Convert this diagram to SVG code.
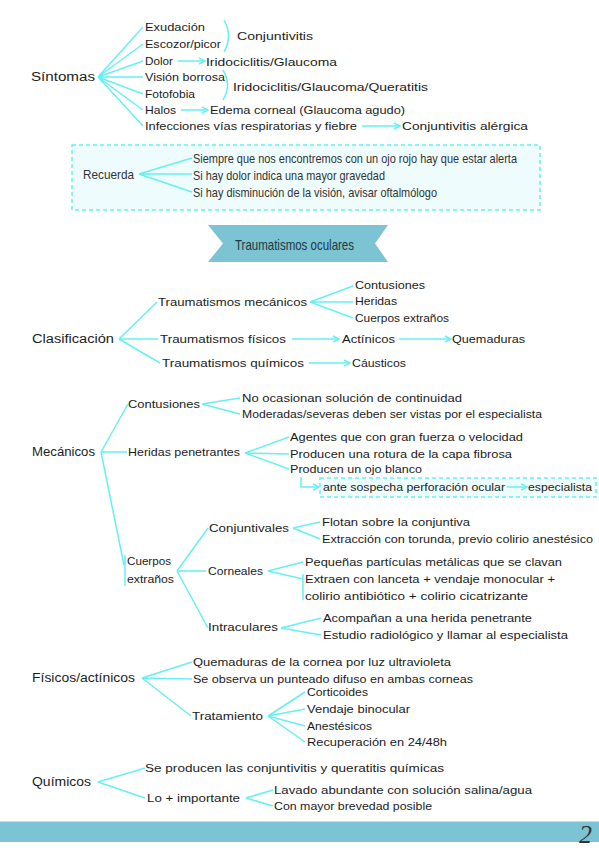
<svg xmlns="http://www.w3.org/2000/svg" width="599" height="848" viewBox="0 0 599 848">
<defs>
<style>
.t{font-family:"Liberation Sans",Arial,sans-serif;font-size:11.5px;fill:#1c1c1c;dominant-baseline:central}
.m{font-size:12.5px}
.n{font-family:"Liberation Sans",Arial,sans-serif;font-size:13.5px;fill:#333;dominant-baseline:central}
.c{stroke:#66f0f2;stroke-width:1.5;fill:none}
.a{marker-end:url(#ah)}
.box{fill:#eefcfd;stroke:#66f0f2;stroke-width:1.5;stroke-dasharray:4 3}
.band{fill:#7cc3d4}
</style>
<marker id="ah" viewBox="0 0 8 8" refX="7" refY="4" markerWidth="8" markerHeight="8" markerUnits="userSpaceOnUse" orient="auto">
<path d="M1,1 L7,4 L1,7" fill="none" stroke="#66f0f2" stroke-width="1.5"/>
</marker>
</defs>
<rect width="599" height="848" fill="#ffffff"/>

<g id="shapes">
<rect class="box" x="72" y="145" width="468" height="65"/>
<polygon class="band" points="208,225 388,225 375,243.5 388,262 208,262 223,243.5"/>
<rect class="box" x="320" y="478" width="276" height="19"/>
<rect class="band" x="0" y="821.5" width="599" height="20.5"/>
</g>

<g id="connectors">
<path class="c" d="M98,77 L143,27 M98,77 L143,44 M98,77 L143,61 M98,77 L143,77 M98,77 L143,94 M98,77 L143,110 M98,77 L143,126"/>
<path class="c" d="M224,20 Q233,36 224,52"/>
<path class="c" d="M223,70 Q232,85 223,100"/>
<path class="c a" d="M178,61 H205"/>
<path class="c a" d="M181,110 H208"/>
<path class="c a" d="M362,126 H400"/>
<path class="c" d="M139,174 L192,158 M139,174 L192,174 M139,174 L192,192"/>
<path class="c" d="M119,339 L157,302 M119,339 L158,339 M119,339 L160,363"/>
<path class="c" d="M310,302 L353,286 M310,302 L353,302 M310,302 L353,318"/>
<path class="c a" d="M292,339 H339"/>
<path class="c a" d="M399,339 H451"/>
<path class="c a" d="M309,363 H350"/>
<path class="c" d="M101,452 L128,404 M101,452 L127,452 M101,452 L124,565 M125,555 V586"/>
<path class="c" d="M202,404 L240,398 M202,404 L240,414"/>
<path class="c" d="M245,453 L289,437 M245,453 L289,454 M245,453 L289,469"/>
<path class="c a" d="M301,477 V487 H319"/>
<path class="c a" d="M507,487 H527"/>
<path class="c" d="M177,571 L208,528 M177,571 L206,571 M177,571 L208,628"/>
<path class="c" d="M293,528 L320,522 M293,528 L320,539"/>
<path class="c" d="M268,571 L303,562 M268,571 L303,579 M303,574 V600"/>
<path class="c" d="M281,628 L321,618 M281,628 L321,635"/>
<path class="c" d="M142,678 L192,662 M142,678 L192,679 M142,678 L191,716"/>
<path class="c" d="M268,716 L305,692 M268,716 L305,709 M268,716 L305,726 M268,716 L305,742"/>
<path class="c" d="M98,782 L145,768 M98,782 L145,798"/>
<path class="c" d="M246,798 L273,790 M246,798 L273,806"/>
</g>

<g id="sintomas">
<text class="t m" x="31" y="77" textLength="64" lengthAdjust="spacingAndGlyphs">Síntomas</text>
<text class="t" x="145" y="27" textLength="60" lengthAdjust="spacingAndGlyphs">Exudación</text>
<text class="t" x="145" y="44" textLength="76" lengthAdjust="spacingAndGlyphs">Escozor/picor</text>
<text class="t" x="145" y="61" textLength="28" lengthAdjust="spacingAndGlyphs">Dolor</text>
<text class="t" x="145" y="77" textLength="80" lengthAdjust="spacingAndGlyphs">Visión borrosa</text>
<text class="t" x="145" y="94" textLength="50" lengthAdjust="spacingAndGlyphs">Fotofobia</text>
<text class="t" x="145" y="110" textLength="31" lengthAdjust="spacingAndGlyphs">Halos</text>
<text class="t" x="145" y="126" textLength="212" lengthAdjust="spacingAndGlyphs">Infecciones vías respiratorias y fiebre</text>
<text class="t" x="237" y="36" textLength="76" lengthAdjust="spacingAndGlyphs">Conjuntivitis</text>
<text class="t" x="206" y="62" textLength="131" lengthAdjust="spacingAndGlyphs">Iridociclitis/Glaucoma</text>
<text class="t" x="233" y="87" textLength="195" lengthAdjust="spacingAndGlyphs">Iridociclitis/Glaucoma/Queratitis</text>
<text class="t" x="210" y="110" textLength="195" lengthAdjust="spacingAndGlyphs">Edema corneal (Glaucoma agudo)</text>
<text class="t" x="402" y="126" textLength="126" lengthAdjust="spacingAndGlyphs">Conjuntivitis alérgica</text>
</g>

<g id="recuerda">
<text class="n" x="83" y="174" textLength="51" lengthAdjust="spacingAndGlyphs">Recuerda</text>
<text class="n" x="193" y="158" textLength="324" lengthAdjust="spacingAndGlyphs">Siempre que nos encontremos con un ojo rojo hay que estar alerta</text>
<text class="n" x="193" y="175" textLength="192" lengthAdjust="spacingAndGlyphs">Si hay dolor indica una mayor gravedad</text>
<text class="n" x="193" y="192" textLength="244" lengthAdjust="spacingAndGlyphs">Si hay disminución de la visión, avisar oftalmólogo</text>
</g>

<g id="banner">
<text class="n" x="235" y="244" textLength="119" lengthAdjust="spacingAndGlyphs" style="fill:#1e3a40;font-size:15px">Traumatismos oculares</text>
</g>

<g id="clasificacion">
<text class="t m" x="32" y="339" textLength="82" lengthAdjust="spacingAndGlyphs">Clasificación</text>
<text class="t" x="158" y="302" textLength="149" lengthAdjust="spacingAndGlyphs">Traumatismos mecánicos</text>
<text class="t" x="355" y="285" textLength="70" lengthAdjust="spacingAndGlyphs">Contusiones</text>
<text class="t" x="355" y="301" textLength="42" lengthAdjust="spacingAndGlyphs">Heridas</text>
<text class="t" x="355" y="318" textLength="94" lengthAdjust="spacingAndGlyphs">Cuerpos extraños</text>
<text class="t" x="160" y="339" textLength="126" lengthAdjust="spacingAndGlyphs">Traumatismos físicos</text>
<text class="t" x="342" y="339" textLength="53" lengthAdjust="spacingAndGlyphs">Actínicos</text>
<text class="t" x="452" y="339" textLength="73" lengthAdjust="spacingAndGlyphs">Quemaduras</text>
<text class="t" x="162" y="363" textLength="142" lengthAdjust="spacingAndGlyphs">Traumatismos químicos</text>
<text class="t" x="352" y="363" textLength="54" lengthAdjust="spacingAndGlyphs">Cáusticos</text>
</g>

<g id="mecanicos">
<text class="t m" x="32" y="452" textLength="63" lengthAdjust="spacingAndGlyphs">Mecánicos</text>
<text class="t" x="128" y="404" textLength="72" lengthAdjust="spacingAndGlyphs">Contusiones</text>
<text class="t" x="242" y="398" textLength="220" lengthAdjust="spacingAndGlyphs">No ocasionan solución de continuidad</text>
<text class="t" x="242" y="414" textLength="300" lengthAdjust="spacingAndGlyphs">Moderadas/severas deben ser vistas por el especialista</text>
<text class="t" x="128" y="452" textLength="112" lengthAdjust="spacingAndGlyphs">Heridas penetrantes</text>
<text class="t" x="290" y="437" textLength="233" lengthAdjust="spacingAndGlyphs">Agentes que con gran fuerza o velocidad</text>
<text class="t" x="290" y="454" textLength="222" lengthAdjust="spacingAndGlyphs">Producen una rotura de la capa fibrosa</text>
<text class="t" x="290" y="469" textLength="132" lengthAdjust="spacingAndGlyphs">Producen un ojo blanco</text>
<text class="t" x="323" y="487" textLength="182" lengthAdjust="spacingAndGlyphs">ante sospecha perforación ocular</text>
<text class="t" x="528" y="487" textLength="64" lengthAdjust="spacingAndGlyphs">especialista</text>
</g>

<g id="cuerpos-extranos">
<text class="t" x="127" y="561" textLength="44" lengthAdjust="spacingAndGlyphs">Cuerpos</text>
<text class="t" x="127" y="579" textLength="47" lengthAdjust="spacingAndGlyphs">extraños</text>
<text class="t" x="209" y="528" textLength="80" lengthAdjust="spacingAndGlyphs">Conjuntivales</text>
<text class="t" x="322" y="522" textLength="148" lengthAdjust="spacingAndGlyphs">Flotan sobre la conjuntiva</text>
<text class="t" x="322" y="539" textLength="271" lengthAdjust="spacingAndGlyphs">Extracción con torunda, previo colirio anestésico</text>
<text class="t" x="208" y="571" textLength="55" lengthAdjust="spacingAndGlyphs">Corneales</text>
<text class="t" x="305" y="562" textLength="257" lengthAdjust="spacingAndGlyphs">Pequeñas partículas metálicas que se clavan</text>
<text class="t" x="305" y="579" textLength="250" lengthAdjust="spacingAndGlyphs">Extraen con lanceta + vendaje monocular +</text>
<text class="t" x="305" y="596" textLength="223" lengthAdjust="spacingAndGlyphs">colirio antibiótico + colirio cicatrizante</text>
<text class="t" x="208" y="627" textLength="70" lengthAdjust="spacingAndGlyphs">Intraculares</text>
<text class="t" x="323" y="618" textLength="209" lengthAdjust="spacingAndGlyphs">Acompañan a una herida penetrante</text>
<text class="t" x="323" y="635" textLength="245" lengthAdjust="spacingAndGlyphs">Estudio radiológico y llamar al especialista</text>
</g>

<g id="fisicos">
<text class="t m" x="32" y="678" textLength="103" lengthAdjust="spacingAndGlyphs">Físicos/actínicos</text>
<text class="t" x="193" y="662" textLength="258" lengthAdjust="spacingAndGlyphs">Quemaduras de la cornea por luz ultravioleta</text>
<text class="t" x="193" y="679" textLength="280" lengthAdjust="spacingAndGlyphs">Se observa un punteado difuso en ambas corneas</text>
<text class="t" x="192" y="716" textLength="71" lengthAdjust="spacingAndGlyphs">Tratamiento</text>
<text class="t" x="307" y="692" textLength="61" lengthAdjust="spacingAndGlyphs">Corticoides</text>
<text class="t" x="307" y="709" textLength="103" lengthAdjust="spacingAndGlyphs">Vendaje binocular</text>
<text class="t" x="307" y="726" textLength="65" lengthAdjust="spacingAndGlyphs">Anestésicos</text>
<text class="t" x="307" y="742" textLength="140" lengthAdjust="spacingAndGlyphs">Recuperación en 24/48h</text>
</g>

<g id="quimicos">
<text class="t m" x="32" y="782" textLength="59" lengthAdjust="spacingAndGlyphs">Químicos</text>
<text class="t" x="145" y="768" textLength="299" lengthAdjust="spacingAndGlyphs">Se producen las conjuntivitis y queratitis químicas</text>
<text class="t" x="147" y="798" textLength="93" lengthAdjust="spacingAndGlyphs">Lo + importante</text>
<text class="t" x="274" y="790" textLength="258" lengthAdjust="spacingAndGlyphs">Lavado abundante con solución salina/agua</text>
<text class="t" x="274" y="806" textLength="158" lengthAdjust="spacingAndGlyphs">Con mayor brevedad posible</text>
</g>

<g id="page-number">
<text x="579" y="843" style="font-family:'Liberation Serif',serif;font-size:26px;font-style:italic;fill:#333">2</text>
</g>
</svg>
